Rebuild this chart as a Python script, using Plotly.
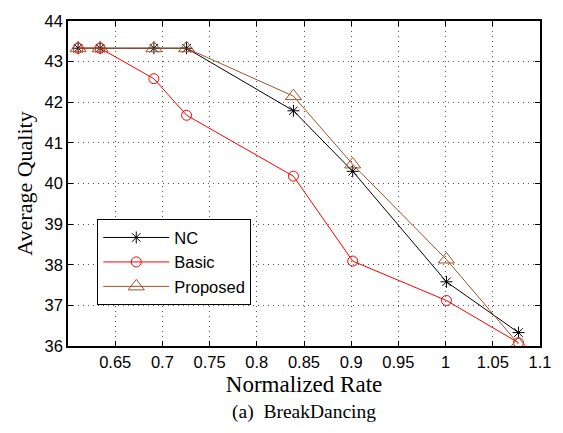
import plotly.graph_objects as go

rate_nc = [0.6107, 0.634, 0.691, 0.7256, 0.8388, 0.9016, 1.0009, 1.0772]
q_nc = [43.33, 43.33, 43.33, 43.33, 41.79, 40.30, 37.58, 36.33]

rate_basic = [0.6107, 0.634, 0.691, 0.7256, 0.8388, 0.9016, 1.0009, 1.0772]
q_basic = [43.33, 43.33, 42.58, 41.68, 40.18, 38.09, 37.12, 36.08]

rate_prop = [0.6107, 0.634, 0.691, 0.7256, 0.8388, 0.9016, 1.0009, 1.0772]
q_prop = [43.33, 43.33, 43.33, 43.33, 42.15, 40.47, 38.13, 36.05]

x_ticks = [0.65, 0.7, 0.75, 0.8, 0.85, 0.9, 0.95, 1.0, 1.05, 1.1]
x_labels = ["0.65", "0.7", "0.75", "0.8", "0.85", "0.9", "0.95", "1", "1.05", "1.1"]
y_ticks = [36, 37, 38, 39, 40, 41, 42, 43, 44]

fig = go.Figure()
fig.add_trace(go.Scatter(x=rate_nc, y=q_nc, name="NC", mode="lines+markers",
                         line=dict(color="black", width=1),
                         marker=dict(symbol="asterisk-open", size=10, color="black",
                                     line=dict(color="black", width=1))))
fig.add_trace(go.Scatter(x=rate_basic, y=q_basic, name="Basic", mode="lines+markers",
                         line=dict(color="#ff0000", width=1),
                         marker=dict(symbol="circle-open", size=10, color="#ff0000",
                                     line=dict(color="#ff0000", width=1))))
fig.add_trace(go.Scatter(x=rate_prop, y=q_prop, name="Proposed", mode="lines+markers",
                         line=dict(color="#A0522D", width=1),
                         marker=dict(symbol="triangle-up-open", size=14, color="#A0522D",
                                     line=dict(color="#A0522D", width=1))))

axis_common = dict(showline=True, linecolor="black", linewidth=1.5, mirror="ticks",
                   ticks="inside", ticklen=5, tickcolor="black",
                   showgrid=True, gridcolor="#555555", griddash="1px,4px", gridwidth=1,
                   zeroline=False,
                   tickfont=dict(family="Liberation Sans, Arial", size=16.5, color="black"))

fig.update_xaxes(range=[0.6, 1.1], tickvals=x_ticks, ticktext=x_labels,
                 title=dict(text="Normalized Rate", standoff=6,
                            font=dict(family="Liberation Serif, Times New Roman", size=23, color="black")),
                 **axis_common)
fig.update_yaxes(range=[36, 44], tickvals=y_ticks,
                 title=dict(text="Average Quality", standoff=6,
                            font=dict(family="Liberation Serif, Times New Roman", size=22, color="black")),
                 **axis_common)

fig.add_annotation(text="(a)  BreakDancing", xref="paper", yref="paper",
                   x=0.5, y=-0.163, yanchor="top", xanchor="center", showarrow=False,
                   font=dict(family="Liberation Serif, Times New Roman", size=19.5, color="black"))

fig.update_layout(width=563, height=433, plot_bgcolor="white", paper_bgcolor="white",
                  margin=dict(l=68, r=12, t=16, b=87),
                  legend=dict(x=0.062, y=0.39, xanchor="left", yanchor="top",
                              bgcolor="white", bordercolor="black", borderwidth=1,
                              font=dict(family="Liberation Sans, Arial", size=16.5, color="black"),
                              tracegroupgap=0, itemwidth=66),
                  showlegend=True)

fig.write_html("out.html")
